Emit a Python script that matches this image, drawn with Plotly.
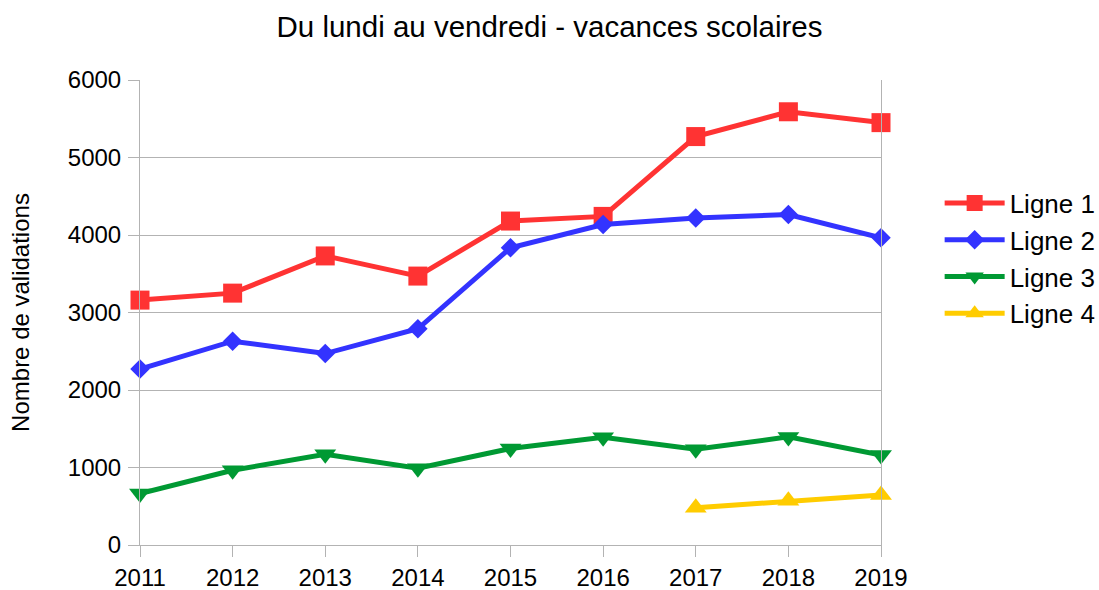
import plotly.graph_objects as go

years = [2011, 2012, 2013, 2014, 2015, 2016, 2017, 2018, 2019]
ligne1 = [3160, 3250, 3730, 3470, 4180, 4240, 5270, 5590, 5450]
ligne2 = [2270, 2630, 2470, 2790, 3835, 4135, 4220, 4265, 3965]
ligne3 = [665, 965, 1170, 990, 1245, 1390, 1235, 1395, 1160]
years4 = [2017, 2018, 2019]
ligne4 = [480, 570, 645]

names = ["Ligne 1", "Ligne 2", "Ligne 3", "Ligne 4"]
colors = ["#ff3333", "#3333ff", "#009933", "#ffcc00"]
symbols = ["square", "diamond", "triangle-down", "triangle-up"]
sizes = [19, 15, 19, 19]

title = "Du lundi au vendredi - vacances scolaires"
ytitle = "Nombre de validations"
yticks = [0, 1000, 2000, 3000, 4000, 5000, 6000]

fig = go.Figure()
series = [(years, ligne1), (years, ligne2), (years, ligne3), (years4, ligne4)]
for i, (xs, ys) in enumerate(series):
    fig.add_trace(go.Scatter(
        x=xs, y=ys, name=names[i], mode="lines+markers",
        line=dict(color=colors[i], width=5),
        marker=dict(symbol=symbols[i], size=sizes[i], color=colors[i]),
        legendgroup=names[i], cliponaxis=False,
    ))

font_family = "Liberation Sans, Arial, sans-serif"
fig.update_layout(
    width=1099, height=590,
    margin=dict(l=140, r=218, t=80, b=45),
    paper_bgcolor="white", plot_bgcolor="white",
    font=dict(family=font_family, size=24, color="#000000"),
    title=dict(text=title, x=0.5, xanchor="center", y=0.955, yanchor="middle",
               font=dict(size=29.5, family=font_family, color="#000000")),
    showlegend=True,
    legend=dict(xref="container", yref="container", x=0.855, xanchor="left",
                y=(590 - 258.5) / 590, yanchor="middle",
                font=dict(size=26), itemwidth=60, tracegroupgap=0,
                bgcolor="rgba(0,0,0,0)"),
    xaxis=dict(range=[2011, 2019], tickmode="array", tickvals=years,
               ticktext=[str(y) for y in years],
               showgrid=False, showline=True, linecolor="#b3b3b3", linewidth=1,
               mirror=False, ticks="outside", ticklen=11, tickcolor="#b3b3b3",
               zeroline=False, automargin=False),
    yaxis=dict(range=[0, 6000], tickmode="array", tickvals=yticks,
               showgrid=True, gridcolor="#b3b3b3", gridwidth=1,
               showline=True, linecolor="#b3b3b3", linewidth=1, mirror=True,
               ticks="outside", ticklen=11, tickcolor="#b3b3b3",
               ticklabelstandoff=2,
               zeroline=False, automargin=False,
               title=dict(text=ytitle, font=dict(size=24), standoff=31)),
)

fig.write_html("out.html", config={"displayModeBar": False},
               post_script="document.body.style.margin='0';document.body.style.overflow='hidden';")
